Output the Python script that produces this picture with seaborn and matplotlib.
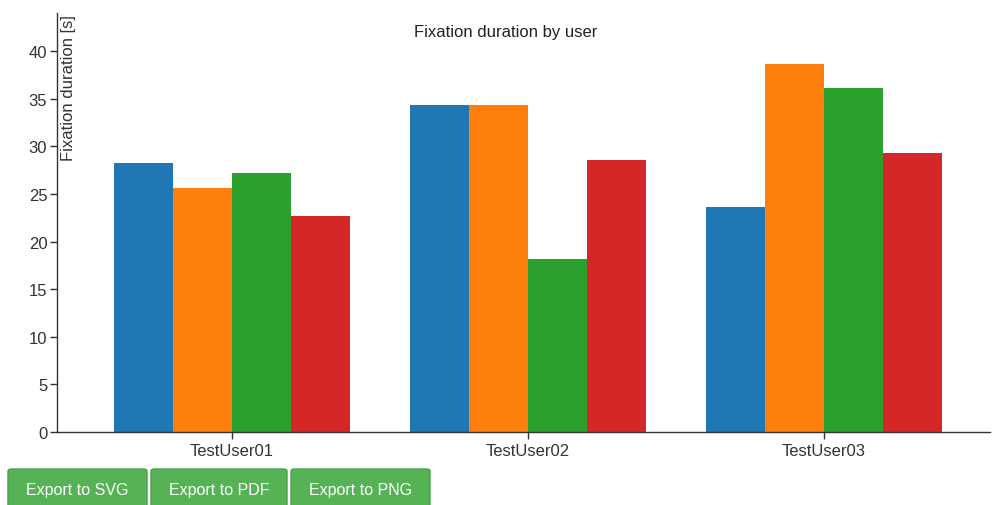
import pandas as pd
import matplotlib.pyplot as plt
import seaborn as sns
from matplotlib.patches import FancyBboxPatch

# data
users = ["TestUser01", "TestUser02", "TestUser03"]
series = ["S1", "S2", "S3", "S4"]
s1 = [28.3, 34.3, 23.6]
s2 = [25.6, 34.3, 38.6]
s3 = [27.2, 18.2, 36.1]
s4 = [22.7, 28.6, 29.3]
y_ticks = [0, 5, 10, 15, 20, 25, 30, 35, 40]
buttons = ["Export to SVG", "Export to PDF", "Export to PNG"]

colors = ["#1f77b4", "#ff7f0e", "#2ca02c", "#d62728"]

df = pd.DataFrame({
    "user": users * 4,
    "series": [s for s in series for _ in users],
    "value": s1 + s2 + s3 + s4,
})

sns.set_style("white")
plt.rcParams["font.family"] = ["Liberation Sans", "DejaVu Sans"]

W, H = 994, 506
fig = plt.figure(figsize=(W / 100, H / 100), dpi=100)
# axes box in pixels: left 57, right 990, bottom y=433, top y=14
ax = fig.add_axes([57 / W, (H - 433) / H, (990 - 57) / W, (433 - 14) / H])

sns.barplot(data=df, x="user", y="value", hue="series", order=users,
            hue_order=series, palette=colors, width=0.8, saturation=1,
            linewidth=0, ax=ax, legend=False)

ax.set_xlim(-0.591, 2.561)
ax.set_ylim(0, 44)
ax.set_yticks(y_ticks)
ax.set_yticks([44], minor=True)
ax.tick_params(axis="y", which="minor", length=6, width=1, color="#333333")
ax.tick_params(axis="both", which="major", length=5, width=1, color="#333333",
               labelsize=12, labelcolor="#333333", direction="out")
ax.tick_params(axis="y", left=True, pad=2)
ax.tick_params(axis="x", bottom=True, pad=3)
ax.set_xlabel("")
ax.set_ylabel("")

for side in ["top", "right"]:
    ax.spines[side].set_visible(False)
for side in ["left", "bottom"]:
    ax.spines[side].set_color("#333333")
    ax.spines[side].set_linewidth(1)

ax.text(0.506 - 57 / W, 1, "", transform=ax.transAxes)
fig.text(506 / W, 1 - 32 / H, "Fixation duration by user", ha="center",
         va="center", fontsize=12, color="#222222")
fig.text(61 / W, 1 - 15 / H, "Fixation duration [s]", rotation=90, ha="left",
         va="top", fontsize=12, color="#333333")

# export buttons under the chart
btn_x = [8, 151, 291]
btn_w = [139, 136, 139]
for label, bx, bw in zip(buttons, btn_x, btn_w):
    patch = FancyBboxPatch((bx / W, (H - 508) / H), bw / W, 38 / H,
                           boxstyle="round,pad=0,rounding_size=0.004",
                           transform=fig.transFigure, facecolor="#56b355",
                           edgecolor="#48a148", linewidth=1)
    fig.patches.append(patch)
    fig.text((bx + bw / 2) / W, 1 - 491 / H, label, ha="center", va="center",
             fontsize=11.5, color="white")

fig.savefig("out.png", dpi=100)
